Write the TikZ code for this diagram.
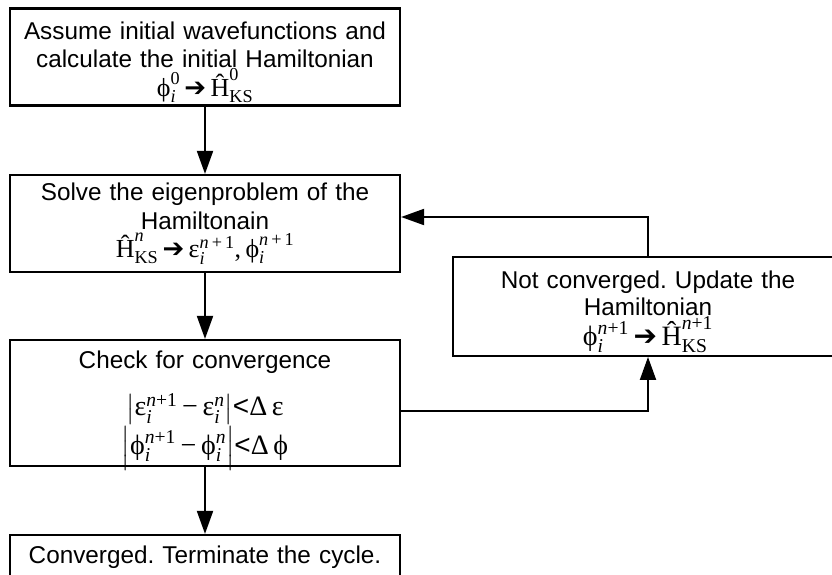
\documentclass[tikz,border=0pt]{standalone}
\usepackage{fontspec}
\usepackage{amsmath}
\setmainfont{Liberation Sans}
\newfontfamily\tms{Liberation Serif}
\newfontfamily\djv{DejaVu Sans}
\usetikzlibrary{arrows.meta,positioning}

\newcommand{\tm}[1]{\text{\tms #1}}
\newcommand{\ti}[1]{\text{\tms\itshape #1}}
\newcommand{\arr}{\,{\djv ➔}\,}
\newcommand{\msz}[1]{\fontsize{#1}{#1}\selectfont}
\newcommand{\up}[1]{\rule{0pt}{#1}}

\begin{document}
\begin{tikzpicture}[x=1pt, y=1pt, node distance=170pt, font=\fontsize{24.3}{27.5}\selectfont\frenchspacing]

    % Styles
    \tikzstyle{stepbox} = [rectangle, draw=black, line width=2.2pt, minimum width=390pt, text width=384pt, inner sep=3pt, align=center]
    \tikzstyle{arrow} = [line width=2pt, -{Triangle[length=23pt, width=16pt]}]

    % Frame
    \useasboundingbox (0,0) rectangle (832,-574);

    % Nodes
    \node (init) [stepbox, minimum height=94pt] at (205,-57) {\up{28pt}Assume initial wavefunctions and\\ calculate the initial Hamiltonian\\ {\msz{26}$\tm{ϕ}^{\tm{0}}_{\ti{i}}$\arr$\tm{Ĥ}^{\tm{0}}_{\tm{KS}}$}};
    \node (solve) [stepbox, minimum height=97pt, below of=init, yshift=3.5pt] {Solve the eigenproblem of the\\[2pt] Hamiltonain\\ {\msz{26}$\tm{Ĥ}^{\ti{n}}_{\tm{KS}}$\arr$\tm{ε}^{\tm{{\itshape n}\,+\,1}}_{\ti{i}}\tm{,\,}\tm{ϕ}^{\tm{{\itshape n}\,+\,1}}_{\ti{i}}$}};
    \node (check) [stepbox, minimum height=126pt, inner ysep=0pt, below of=solve, yshift=-9.5pt] {Check for convergence\\[19pt] {\msz{28}$\left|\tm{ε}^{\tm{{\itshape n}+1}}_{\ti{i}}\tm{\,−\,}\tm{ε}^{\ti{n}}_{\ti{i}}\right|$\text{<}\tm{Δ\,ε}}\\[1pt] \raisebox{0pt}[\height][0pt]{\msz{28}$\left|\tm{ϕ}^{\tm{{\itshape n}+1}}_{\ti{i}}\tm{\,−\,}\tm{ϕ}^{\ti{n}}_{\ti{i}}\right|$\text{<}\tm{Δ\,ϕ}}};
    \node (update) [stepbox, minimum height=97pt, below of=solve, xshift=443pt, yshift=87pt] {\up{28pt}Not converged. Update the\\ Hamiltonian\\ {\msz{28}$\tm{ϕ}^{\tm{{\itshape n}+1}}_{\ti{i}}$\arr$\tm{Ĥ}^{\tm{{\itshape n}+1}}_{\tm{KS}}$}};
    \node (done) [stepbox, minimum height=45pt, below of=check, yshift=15.5pt] {Converged. Terminate the cycle.};

    % Arrows
    \draw [arrow] (init) -- (solve);
    \draw [arrow] (solve) -- (check);
    \draw [arrow] (check) -- (done);
    \draw [arrow] ([yshift=-8pt]check.east) -| (update.south);
    \draw [arrow] (update.north) |- ([yshift=6.5pt]solve.east);

\end{tikzpicture}
\end{document}
